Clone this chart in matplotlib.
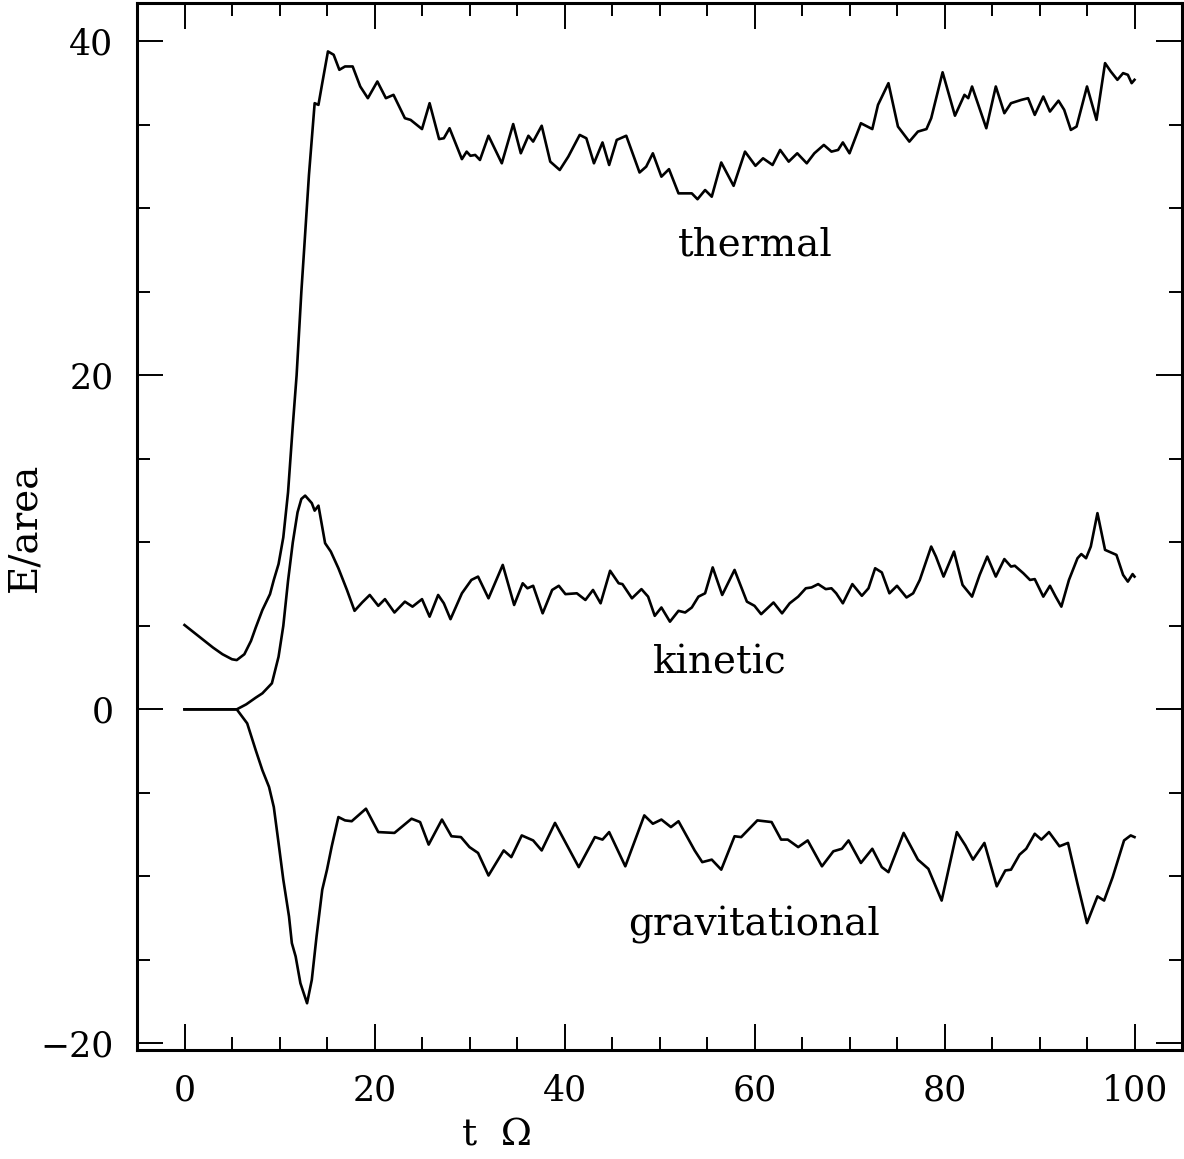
import numpy as np
import matplotlib
matplotlib.use("Agg")
import matplotlib.pyplot as plt
from matplotlib.ticker import MultipleLocator

# values
t_thermal = [0, 1, 2, 3, 4, 5, 5.5, 6.3, 7.0, 7.5, 8.2, 9.0, 9.4, 9.9, 10.4, 10.9, 11.4,
             11.8, 12.3, 12.6, 13.1, 13.7, 14.1, 14.5, 15.1, 15.7, 16.3, 16.9, 17.7, 18.5,
             19.3, 20.3, 21.2, 22.0, 23.2, 23.8, 25.0, 25.8, 26.8, 27.3, 27.9, 29.2, 29.7,
             30.1, 30.6, 31.1, 32.0, 33.4, 34.6, 35.4, 36.2, 36.7, 37.6, 38.5, 39.5, 40.4,
             41.6, 42.3, 43.1, 44.0, 44.7, 45.5, 46.5, 47.9, 48.6, 49.3, 50.2, 51.0, 52.0,
             53.4, 54.0, 54.8, 55.5, 56.5, 57.8, 59.0, 60.1, 60.9, 61.9, 62.7, 63.6, 64.5,
             65.5, 66.3, 67.3, 68.1, 68.8, 69.3, 70.0, 71.2, 72.4, 73.0, 74.1, 75.1, 76.3,
             77.2, 78.1, 78.6, 79.8, 81.1, 82.1, 82.5, 82.9, 84.4, 85.4, 86.3, 87.0, 88.1,
             88.8, 89.5, 90.4, 91.1, 92.0, 92.6, 93.3, 93.9, 95.0, 96.0, 96.9, 97.5, 98.2,
             98.8, 99.3, 99.7, 100.0]
E_thermal = [5.05, 4.6, 4.15, 3.7, 3.3, 3.0, 2.95, 3.3, 4.1, 4.9, 5.95, 6.9, 7.75, 8.7, 10.3,
             13.0, 17.0, 20.0, 25.0, 27.6, 32.0, 36.3, 36.2, 37.5, 39.4, 39.2, 38.3, 38.5,
             38.5, 37.3, 36.6, 37.6, 36.6, 36.8, 35.4, 35.3, 34.75, 36.3, 34.15, 34.2, 34.8,
             32.95, 33.4, 33.15, 33.2, 32.9, 34.35, 32.7, 35.05, 33.3, 34.35, 34.0, 34.95,
             32.8, 32.3, 33.1, 34.4, 34.2, 32.7, 33.95, 32.6, 34.1, 34.35, 32.15, 32.5, 33.3,
             31.9, 32.35, 30.9, 30.9, 30.55, 31.1, 30.7, 32.75, 31.35, 33.4, 32.55, 33.0,
             32.6, 33.5, 32.8, 33.3, 32.7, 33.3, 33.8, 33.4, 33.5, 33.95, 33.3, 35.1, 34.75,
             36.2, 37.5, 34.9, 34.0, 34.6, 34.75, 35.4, 38.15, 35.55, 36.8, 36.6, 37.3, 34.8,
             37.3, 35.7, 36.3, 36.5, 36.6, 35.6, 36.7, 35.8, 36.45, 35.9, 34.7, 34.9, 37.3,
             35.3, 38.7, 38.2, 37.7, 38.1, 38.0, 37.5, 37.7]

t_kinetic = [0, 5.5, 6.5, 7.5, 8.2, 9.2, 9.9, 10.4, 10.9, 11.4, 11.9, 12.3, 12.7, 13.4, 13.7,
             14.1, 14.8, 15.4, 16.2, 17.1, 17.9, 18.7, 19.5, 20.4, 21.1, 22.1, 23.2, 24.0,
             25.0, 25.8, 26.7, 27.3, 28.0, 29.2, 30.2, 30.9, 32.0, 33.5, 34.7, 35.6, 36.1,
             36.7, 37.7, 38.7, 39.4, 40.1, 41.3, 42.2, 43.0, 43.8, 44.8, 45.7, 46.1, 47.1,
             48.1, 48.8, 49.5, 50.2, 51.1, 52.0, 52.7, 53.4, 54.1, 54.8, 55.6, 56.6, 57.9,
             59.2, 60.0, 60.7, 62.0, 62.9, 63.7, 64.6, 65.4, 66.0, 66.7, 67.5, 68.1, 68.6,
             69.3, 70.3, 71.3, 72.0, 72.7, 73.4, 74.2, 75.0, 76.0, 76.7, 77.4, 78.6, 79.1,
             79.9, 81.0, 81.9, 82.9, 83.7, 84.5, 85.4, 86.3, 87.0, 87.4, 88.3, 89.0, 89.5,
             90.4, 91.1, 91.7, 92.3, 93.1, 94.0, 94.4, 94.9, 95.4, 96.1, 96.9, 98.1, 98.8,
             99.3, 99.8, 100.0]
E_kinetic = [0, 0, 0.3, 0.7, 0.96, 1.56, 3.15, 5.0, 7.7, 10.0, 11.8, 12.6, 12.8, 12.35, 11.9,
             12.2, 9.95, 9.45, 8.45, 7.15, 5.9, 6.4, 6.85, 6.2, 6.6, 5.8, 6.45, 6.15, 6.6,
             5.55, 6.85, 6.35, 5.4, 6.95, 7.75, 7.95, 6.65, 8.65, 6.25, 7.55, 7.25, 7.4, 5.75,
             7.15, 7.4, 6.9, 6.95, 6.55, 7.15, 6.35, 8.3, 7.55, 7.5, 6.65, 7.2, 6.75, 5.6,
             6.1, 5.25, 5.9, 5.8, 6.1, 6.75, 6.95, 8.5, 6.85, 8.35, 6.45, 6.2, 5.7, 6.4,
             5.75, 6.35, 6.75, 7.25, 7.3, 7.5, 7.2, 7.25, 6.95, 6.35, 7.5, 6.8, 7.25, 8.45,
             8.2, 6.95, 7.4, 6.7, 6.95, 7.75, 9.75, 9.15, 7.95, 9.45, 7.45, 6.75, 8.05, 9.15,
             7.95, 9.0, 8.55, 8.6, 8.15, 7.75, 7.8, 6.75, 7.4, 6.75, 6.15, 7.75, 9.05, 9.3,
             9.05, 9.75, 11.75, 9.55, 9.25, 8.05, 7.65, 8.1, 7.95]

t_grav = [0, 5.5, 6.6, 7.5, 8.2, 8.9, 9.4, 9.9, 10.4, 11.0, 11.3, 11.7, 12.2, 12.9, 13.4,
          13.9, 14.5, 15.0, 15.5, 16.2, 16.9, 17.6, 19.1, 20.4, 22.1, 23.9, 24.8, 25.7, 27.1,
          28.1, 29.1, 30.0, 30.9, 32.0, 33.6, 34.4, 35.5, 36.7, 37.6, 39.0, 41.5, 43.2,
          44.0, 44.7, 46.4, 48.4, 49.3, 50.2, 51.2, 52.0, 53.7, 54.5, 55.5, 56.5, 57.9,
          58.6, 60.3, 61.8, 62.8, 63.5, 64.6, 65.6, 67.1, 68.3, 69.2, 69.9, 71.2, 72.4,
          73.4, 74.1, 75.7, 77.2, 78.3, 79.7, 81.3, 82.2, 83.0, 84.2, 85.5, 86.4, 87.0,
          87.9, 88.6, 89.5, 90.2, 91.0, 92.1, 93.0, 94.0, 95.0, 96.1, 96.8, 97.7, 98.9,
          99.6, 100.0]
E_grav = [0, 0, -0.84, -2.45, -3.65, -4.65, -5.85, -8.0, -10.2, -12.4, -14.0, -14.8, -16.4,
          -17.6, -16.2, -13.6, -10.8, -9.6, -8.2, -6.45, -6.65, -6.7, -5.95, -7.35, -7.4,
          -6.55, -6.75, -8.1, -6.6, -7.6, -7.65, -8.25, -8.6, -9.95, -8.45, -8.85, -7.55,
          -7.85, -8.45, -6.8, -9.45, -7.65, -7.8, -7.35, -9.4, -6.35, -6.85, -6.6, -7.05,
          -6.7, -8.45, -9.15, -9.0, -9.6, -7.6, -7.65, -6.65, -6.75, -7.8, -7.8, -8.25,
          -7.85, -9.4, -8.5, -8.35, -7.85, -9.2, -8.35, -9.45, -9.75, -7.4, -9.0, -9.55,
          -11.45, -7.35, -8.15, -9.0, -8.0, -10.6, -9.65, -9.6, -8.7, -8.35, -7.45, -7.8,
          -7.35, -8.2, -8.0, -10.45, -12.8, -11.2, -11.45, -10.05, -7.85, -7.55, -7.65]

labels = ["thermal", "kinetic", "gravitational"]
label_pos = [(60.1, 27.8), (56.3, 2.8), (60.0, -12.9)]

plt.rcParams['font.family'] = ['DejaVu Serif']

fig = plt.figure(figsize=(11.84, 11.59), dpi=100)
ax = fig.add_axes([137/1184, 1 - 1050/1159, 1045/1184, 1047/1159])

for t, e in [(t_thermal, E_thermal), (t_kinetic, E_kinetic), (t_grav, E_grav)]:
    ax.plot(t, e, color='black', lw=1.9, solid_joinstyle='round')

for lab, (x, y) in zip(labels, label_pos):
    ax.text(x, y, lab, fontsize=28, ha='center', va='center')

ax.set_xlim(-5, 105)
ax.set_ylim(-20.4, 42.3)
ax.xaxis.set_major_locator(MultipleLocator(20))
ax.xaxis.set_minor_locator(MultipleLocator(5))
ax.yaxis.set_major_locator(MultipleLocator(20))
ax.yaxis.set_minor_locator(MultipleLocator(5))
ax.tick_params(which='both', direction='in', top=True, right=True, width=1.4,
               labelsize=25, pad=17)
ax.tick_params(which='major', length=19)
ax.tick_params(which='minor', length=9.5)
for s in ax.spines.values():
    s.set_linewidth(2.2)

fig.text(497/1184, 1 - 1135/1159, "t  \u03a9", fontsize=27, ha='center', va='center')
fig.text(25/1184, 1 - 527/1159, "E/area", fontsize=28, ha='center', va='center',
         rotation=90)

fig.savefig("out.png", dpi=100)
